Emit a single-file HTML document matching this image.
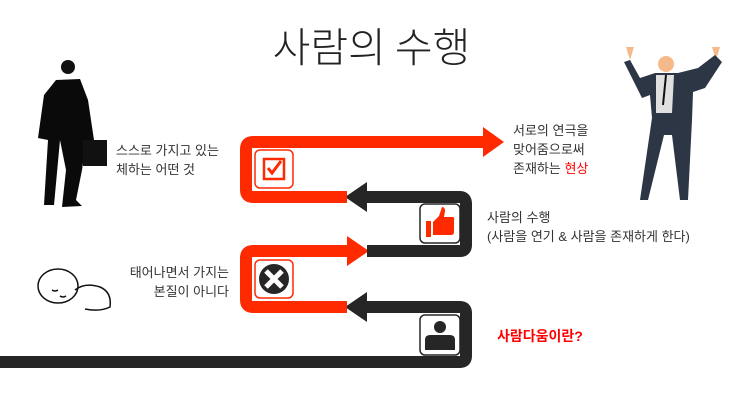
<!DOCTYPE html>
<html><head><meta charset="utf-8"><style>
html,body{margin:0;padding:0;background:#fff;}
#c{position:relative;width:743px;height:419px;overflow:hidden;font-family:"Liberation Sans","Noto Sans CJK KR",sans-serif;color:#333;}
.t{position:absolute;font-size:13px;line-height:19px;white-space:nowrap;}
</style></head><body><div id="c">
<div style="position:absolute;left:0;width:743px;top:14px;text-align:center;font-size:41px;font-weight:300;color:#222;font-family:'Noto Sans CJK KR',sans-serif;">사람의 수행</div>
<svg width="743" height="419" style="position:absolute;left:0;top:0">
<path d="M0 362 H460 Q466 362 466 356 V313 Q466 307 460 307 H367" fill="none" stroke="#262626" stroke-width="12"/>
<polygon points="345,307 367,292 367,322" fill="#262626"/>
<path d="M347 307 H253 Q246 307 246 300 V258 Q246 251 253 251 H347" fill="none" stroke="#ff2a00" stroke-width="12"/>
<polygon points="369,251 347,236 347,266" fill="#ff2a00"/>
<path d="M367 251 H460 Q466 251 466 245 V204 Q466 197 460 197 H367" fill="none" stroke="#262626" stroke-width="12"/>
<polygon points="345,197 367,182 367,212" fill="#262626"/>
<path d="M347 197 H253 Q246 197 246 190 V149 Q246 142 253 142 H483" fill="none" stroke="#ff2a00" stroke-width="12"/>
<polygon points="504,142 483,127 483,157" fill="#ff2a00"/>
<rect x="255" y="150" width="38" height="38" rx="5" fill="#fff" stroke="#ff2a00" stroke-width="1.5"/>
<rect x="264" y="159" width="20" height="20" fill="none" stroke="#ff2a00" stroke-width="2.5"/>
<path d="M268 168 l4 5 l9 -12" fill="none" stroke="#ff2a00" stroke-width="3"/>
<rect x="420" y="204" width="40" height="39" rx="5" fill="#fff" stroke="#262626" stroke-width="1.5"/>
<path d="M426 221 h5 v16 h-5z M433 222 l6 -6 l3 -9 q3 0 3 4 l-1 6 h9 q2 1 1 3 v12 q0 3 -3 3 h-18z" fill="#ff2a00"/>
<rect x="255" y="260" width="38" height="38" rx="5" fill="#fff" stroke="#ff2a00" stroke-width="1.5"/>
<circle cx="274" cy="279" r="15" fill="#262626"/>
<path d="M266 271 L282 287 M282 271 L266 287" stroke="#fff" stroke-width="5"/>
<rect x="420" y="315" width="40" height="40" rx="5" fill="#fff" stroke="#262626" stroke-width="1.5"/>
<circle cx="440" cy="327" r="6" fill="#262626"/>
<path d="M425 350 v-10 q0 -5 5 -5 h20 q5 0 5 5 v10z" fill="#262626"/>
<circle cx="68" cy="67" r="7" fill="#111"/>
<path d="M56 80 L80 79 L88 100 L94 140 L86 142 L82 170 L76 200 L82 206 L62 207 L66 170 L60 140 L54 205 L44 205 L48 140 L38 138 L44 95z" fill="#0a0a0a"/>
<rect x="83" y="140" width="24" height="26" fill="#111"/>
<g fill="none" stroke="#111" stroke-width="1.5">
<ellipse cx="58" cy="286" rx="20" ry="17"/>
<path d="M75 290 q10 -8 25 -3 q12 5 10 20 q-10 5 -25 2"/>
<path d="M52 290 q3 2 6 0 M60 296 q3 2 6 0"/>
</g>
<circle cx="666" cy="64" r="8" fill="#f6b98a"/>
<path d="M630 60 l-4 -13 l8 0z M716 60 l4 -13 l-8 0z" fill="#f6b98a"/>
<path d="M630 60 L640 78 L655 73 L678 73 L698 68 L715 55 L722 62 L705 88 L693 92 L692 120 L688 200 L680 200 L672 135 L664 135 L648 200 L640 200 L652 118 L650 95 L642 98 L624 62z" fill="#2d3645"/>
<path d="M656 75 h18 l-2 38 h-16z" fill="#e0e0e0"/>
<path d="M666 75 l-3 30" stroke="#111" stroke-width="2"/>
</svg>
<div class="t" style="left:116px;top:141px;">스스로 가지고 있는<br>체하는 어떤 것</div>
<div class="t" style="right:514px;top:263px;text-align:right;">태어나면서 가지는<br>본질이 아니다</div>
<div class="t" style="left:513px;top:121px;">서로의 연극을<br>맞어줌으로써<br>존재하는 <span style="color:#f00">현상</span></div>
<div class="t" style="left:487px;top:208px;">사람의 수행<br>(사람을 연기 &amp; 사람을 존재하게 한다)</div>
<div class="t" style="left:497px;top:327px;color:#f00;font-weight:bold;font-size:14px;">사람다움이란?</div>
</div></body></html>
